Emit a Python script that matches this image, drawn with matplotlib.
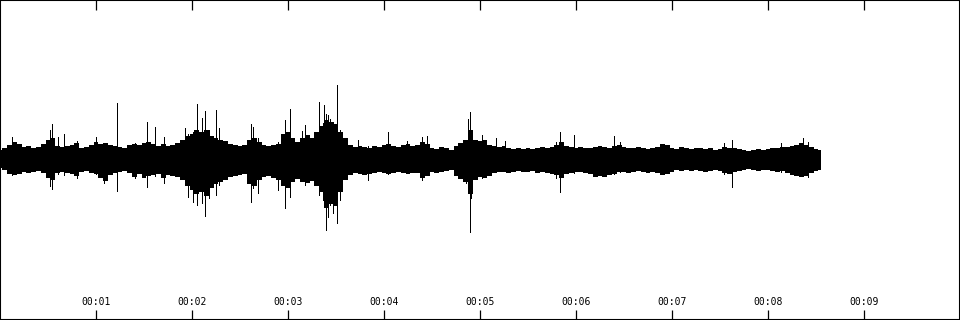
import numpy as np
import matplotlib
matplotlib.use('Agg')
import matplotlib.pyplot as plt
import matplotlib.ticker as ticker

# waveform envelope, one value every 0.05 s (amplitude in px-ish units, 0 = centre)
env_hi = [10, 12, 15, 18, 16, 13, 14, 12, 13, 16, 20, 22, 14, 13, 14, 15, 17, 12, 13, 15,
          18, 16, 17, 15, 14, 13, 12, 15, 16, 15, 17, 18, 16, 14, 16, 14, 15, 17, 20, 24,
          26, 30, 28, 30, 24, 22, 20, 19, 16, 15, 14, 15, 20, 22, 18, 15, 14, 15, 16, 26,
          28, 22, 18, 22, 25, 22, 28, 34, 40, 38, 36, 28, 22, 15, 13, 14, 13, 12, 14, 13,
          15, 16, 14, 13, 15, 16, 14, 15, 18, 16, 12, 11, 13, 12, 10, 14, 17, 20, 30, 20,
          19, 20, 15, 14, 13, 14, 12, 11, 12, 11, 12, 11, 12, 13, 12, 13, 15, 18, 14, 13,
          12, 13, 12, 12, 13, 14, 13, 12, 14, 15, 13, 12, 12, 13, 12, 11, 12, 13, 16, 15,
          12, 11, 13, 12, 11, 12, 12, 11, 12, 10, 11, 13, 12, 12, 11, 10, 9, 10, 11, 10,
          11, 12, 12, 13, 13, 14, 15, 17, 15, 13, 11, 10]
env_lo = [-8, -10, -14, -15, -14, -12, -13, -12, -11, -13, -18, -20, -13, -12, -13, -14, -16, -12, -11, -13,
          -14, -18, -21, -15, -13, -12, -11, -13, -17, -14, -18, -16, -15, -14, -18, -15, -16, -17, -20, -26,
          -30, -34, -32, -36, -28, -24, -22, -20, -17, -16, -15, -14, -24, -26, -20, -17, -16, -18, -20, -26,
          -28, -22, -19, -22, -23, -21, -26, -32, -48, -44, -46, -32, -20, -15, -13, -14, -15, -14, -13, -12,
          -13, -14, -13, -12, -13, -14, -13, -13, -18, -16, -12, -13, -12, -11, -10, -16, -19, -22, -34, -20,
          -17, -18, -16, -13, -12, -12, -13, -12, -11, -12, -12, -11, -13, -12, -13, -14, -15, -18, -14, -13,
          -12, -12, -13, -14, -17, -16, -17, -15, -14, -12, -12, -13, -12, -11, -12, -13, -12, -13, -15, -14,
          -12, -10, -11, -10, -11, -10, -11, -12, -11, -10, -11, -13, -14, -12, -11, -10, -9, -10, -11, -10,
          -10, -11, -12, -11, -13, -15, -16, -17, -16, -13, -11, -10]
env_t = np.arange(len(env_hi)) * 0.05

# isolated peaks (seconds, top, bottom)
spike_t = [0.13, 0.52, 0.54, 0.60, 0.67, 0.80, 1.00, 1.08, 1.22, 1.41,
           1.53, 1.61, 1.71, 1.93, 1.96, 2.01, 2.05, 2.10, 2.14, 2.18,
           2.25, 2.28, 2.61, 2.64, 2.69, 2.90, 2.97, 3.02, 3.15, 3.18,
           3.32, 3.36, 3.38, 3.40, 3.42, 3.44, 3.47, 3.51, 3.54, 3.73,
           3.83, 4.04, 4.24, 4.40, 4.45, 4.85, 4.88, 4.90, 4.91, 5.02,
           5.17, 5.26, 5.79, 5.83, 5.98, 6.40, 6.46, 7.54, 7.63, 8.14,
           8.36, 8.42]
spike_hi = [23, 30, 36, 23, 26, 19, 23, 15, 57, 17,
            38, 33, 23, 32, 26, 28, 56, 42, 49, 30,
            50, 32, 36, 33, 22, 18, 40, 51, 29, 35,
            58, 37, 55, 46, 45, 41, 30, 75, 30, 20,
            14, 28, 19, 23, 24, 19, 41, 48, 30, 25,
            22, 19, 18, 28, 25, 24, 18, 17, 20, 17,
            22, 18]
spike_lo = [-15, -26, -29, -14, -15, -18, -14, -23, -31, -18,
            -27, -16, -23, -25, -37, -42, -45, -43, -56, -38,
            -35, -25, -42, -28, -33, -30, -48, -37, -20, -25,
            -35, -40, -45, -70, -57, -45, -53, -63, -40, -12,
            -20, -14, -13, -20, -15, -23, -30, -72, -38, -18,
            -12, -11, -18, -32, -13, -14, -12, -14, -27, -12,
            -14, -17]

tick_sec = [1, 2, 3, 4, 5, 6, 7, 8, 9]
tick_labels = ['00:0%d' % s for s in tick_sec]

fig = plt.figure(figsize=(9.6, 3.2), dpi=100)
ax = fig.add_axes([0, 0, 1, 1])

ax.fill_between(env_t, env_lo, env_hi, step='mid', color='black', lw=0)
ax.vlines(spike_t, spike_lo, spike_hi, color='black', lw=0.72, antialiased=False)

ax.set_xlim(0, 10)
ax.set_ylim(-160.5, 159.5)

# frame
for s in ax.spines.values():
    s.set_linewidth(1.5)
    s.set_color('black')

ax.xaxis.set_major_locator(ticker.FixedLocator(tick_sec))
ax.xaxis.set_major_formatter(ticker.NullFormatter())
ax.yaxis.set_major_locator(ticker.NullLocator())
ax.tick_params(axis='x', direction='in', length=7.2, width=0.9, top=True, bottom=True, color='black')

for s, lab in zip(tick_sec, tick_labels):
    ax.text(s, 15 / 320, lab, transform=ax.get_xaxis_transform(), ha='center', va='baseline',
            fontsize=7, family='DejaVu Sans Mono', color='black')

fig.savefig('out.png', dpi=100, facecolor='white')
